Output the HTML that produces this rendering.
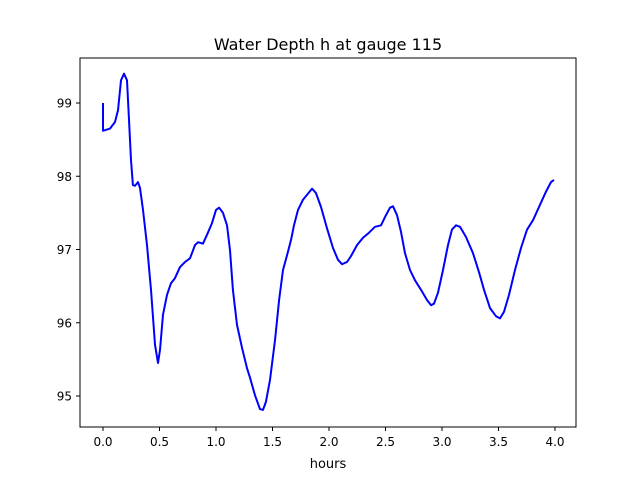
<!DOCTYPE html>
<html><head><meta charset="utf-8"><style>
body{margin:0;background:#fff;font-family:"Liberation Sans","DejaVu Sans",sans-serif}
</style></head><body>
<svg id="c" width="640" height="480" xmlns="http://www.w3.org/2000/svg" font-family="DejaVu Sans, Liberation Sans, sans-serif">
<rect width="640" height="480" fill="#fff"/>
<text x="328" y="50" text-anchor="middle" font-size="16">Water Depth h at gauge 115</text>
<g id="ticks"></g>
<path id="line" fill="none" stroke="#0000ff" stroke-width="2" stroke-linejoin="round"/>
<rect x="80" y="58" width="496" height="369" fill="none" stroke="#000" stroke-width="1"/>
<text x="328" y="468" text-anchor="middle" font-size="13">hours</text>
</svg>
<script>
const tVals=[0,0,0.062,0.106,0.133,0.159,0.186,0.212,0.230,0.248,0.265,0.283,0.310,0.327,0.354,0.389,0.425,0.460,0.487,0.504,0.531,0.566,0.602,0.637,0.681,0.726,0.770,0.814,0.841,0.885,0.920,0.965,1.0,1.027,1.062,1.097,1.124,1.150,1.186,1.230,1.274,1.301,1.345,1.389,1.416,1.442,1.478,1.522,1.558,1.593,1.628,1.664,1.690,1.726,1.770,1.823,1.850,1.885,1.929,1.982,2.035,2.080,2.115,2.159,2.195,2.248,2.301,2.354,2.407,2.460,2.504,2.540,2.566,2.602,2.637,2.673,2.717,2.761,2.814,2.867,2.903,2.929,2.965,3.009,3.053,3.088,3.124,3.159,3.212,3.274,3.327,3.372,3.425,3.478,3.513,3.549,3.593,3.646,3.699,3.752,3.805,3.867,3.920,3.965,3.991];
const hVals=[99.0,98.62,98.65,98.74,98.90,99.31,99.40,99.31,98.77,98.22,97.88,97.87,97.92,97.84,97.54,97.06,96.45,95.70,95.45,95.63,96.11,96.38,96.54,96.61,96.76,96.83,96.88,97.06,97.10,97.08,97.20,97.36,97.54,97.57,97.50,97.33,96.99,96.45,95.97,95.66,95.38,95.25,95.01,94.82,94.81,94.92,95.22,95.76,96.31,96.72,96.92,97.13,97.33,97.54,97.68,97.78,97.83,97.77,97.58,97.29,97.02,96.86,96.80,96.83,96.91,97.06,97.16,97.23,97.31,97.33,97.47,97.57,97.59,97.47,97.24,96.95,96.72,96.58,96.45,96.31,96.24,96.26,96.41,96.72,97.06,97.27,97.33,97.31,97.17,96.95,96.69,96.45,96.20,96.09,96.06,96.15,96.38,96.72,97.02,97.27,97.40,97.61,97.79,97.92,97.95];
const xTicks=[0,0.5,1,1.5,2,2.5,3,3.5,4];
const xTickLabels=["0.0","0.5","1.0","1.5","2.0","2.5","3.0","3.5","4.0"];
const yTicks=[95,96,97,98,99];
const yTickLabels=["95","96","97","98","99"];
const X=t=>103+t*113, Y=h=>103+(99-h)*73.25;
const NS="http://www.w3.org/2000/svg";
const g=document.getElementById('ticks');
function mk(tag,a){const e=document.createElementNS(NS,tag);for(const k in a)e.setAttribute(k,a[k]);g.appendChild(e);return e;}
xTicks.forEach((v,i)=>{
 const l=mk('line',{x1:X(v),x2:X(v),y1:427,y2:431,stroke:'#000'});
 
 
 const t=mk('text',{x:X(v),y:446,'text-anchor':'middle','font-size':'12'});t.textContent=xTickLabels[i];
 
 
});
yTicks.forEach((v,i)=>{
 const l=mk('line',{x1:76,x2:80,y1:Y(v),y2:Y(v),stroke:'#000'});
 
 
 const t=mk('text',{x:72,y:Y(v)+4.5,'text-anchor':'end','font-size':'12'});t.textContent=yTickLabels[i];
 
 
});
document.getElementById('line').setAttribute('d',tVals.map((t,i)=>(i?'L':'M')+X(t).toFixed(1)+' '+Y(hVals[i]).toFixed(1)).join(''));
</script>
</body></html>
